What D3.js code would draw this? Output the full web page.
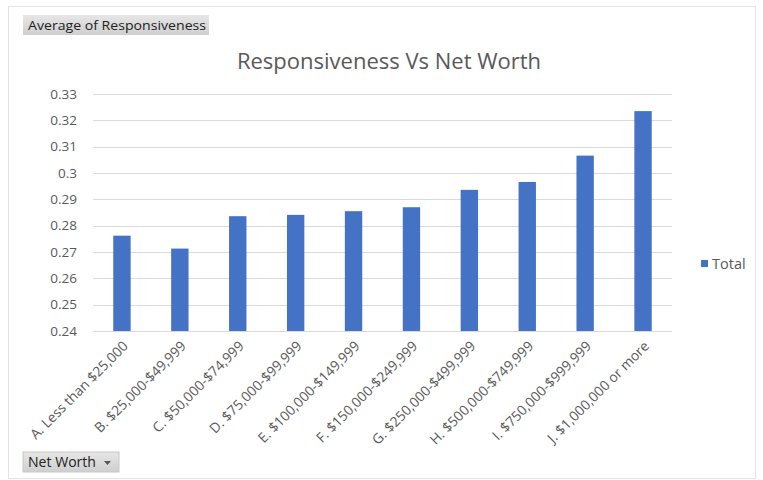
<!DOCTYPE html>
<html>
<head>
<meta charset="utf-8">
<script src="https://cdn.jsdelivr.net/npm/d3@7"></script>
<style>
  html, body { margin: 0; padding: 0; background: #fff; }
  svg { display: block; font-family: "Open Sans", sans-serif; }
</style>
</head>
<body>
<svg id="chart" width="763" height="480"></svg>
<script>
// Net worth brackets and the average responsiveness in each
const categories = [
  "A. Less than $25,000",
  "B. $25,000-$49,999",
  "C. $50,000-$74,999",
  "D. $75,000-$99,999",
  "E. $100,000-$149,999",
  "F. $150,000-$249,999",
  "G. $250,000-$499,999",
  "H. $500,000-$749,999",
  "I. $750,000-$999,999",
  "J. $1,000,000 or more"
];
const totals = [0.2762, 0.2713, 0.2836, 0.2841, 0.2855, 0.2870, 0.2936, 0.2966, 0.3066, 0.3235];
const yTicks = [0.24, 0.25, 0.26, 0.27, 0.28, 0.29, 0.30, 0.31, 0.32, 0.33];
const seriesName = "Total";
const chartTitle = "Responsiveness Vs Net Worth";
const valueField = "Average of Responsiveness";
const axisField = "Net Worth";

const font = "'Open Sans', sans-serif";
const svg = d3.select("#chart");
const plot = { left: 93, right: 672, top: 94, bottom: 331 };

// outer chart frame
svg.append("rect")
  .attr("x", 8.5).attr("y", 6.5).attr("width", 747).attr("height", 472)
  .attr("fill", "#fff").attr("stroke", "#e3e3e3");

const x = d3.scaleBand().domain(categories).range([plot.left, plot.right]).paddingInner(0.7).paddingOuter(0.35);
const y = d3.scaleLinear().domain([0.24, 0.33]).range([plot.bottom, plot.top]);

// horizontal gridlines
svg.append("g")
  .selectAll("line")
  .data(yTicks)
  .join("line")
  .attr("x1", plot.left).attr("x2", plot.right)
  .attr("y1", d => Math.round(y(d)) + 0.5).attr("y2", d => Math.round(y(d)) + 0.5)
  .attr("stroke", "#d9d9d9").attr("stroke-width", 1);

// y axis labels
const yAxis = d3.axisLeft(y).tickValues(yTicks).tickSize(0).tickPadding(0)
  .tickFormat(d => String(+d.toFixed(2)));
svg.append("g")
  .attr("transform", `translate(${plot.left - 16},0)`)
  .call(yAxis)
  .call(g => g.select(".domain").remove())
  .call(g => g.selectAll("text").attr("fill", "#595959").attr("font-size", 13.5)
    .attr("font-family", font));

// bars
svg.append("g")
  .selectAll("rect")
  .data(categories.map((c, i) => ({ c, v: totals[i] })))
  .join("rect")
  .attr("x", d => x(d.c))
  .attr("width", x.bandwidth())
  .attr("y", d => y(d.v))
  .attr("height", d => y(0.24) - y(d.v))
  .attr("fill", "#4472c4");

// x axis labels, rotated
const xAxis = d3.axisBottom(x).tickSize(0).tickPadding(0);
svg.append("g")
  .attr("transform", `translate(0,${plot.bottom})`)
  .call(xAxis)
  .call(g => g.select(".domain").remove())
  .call(g => g.selectAll("text")
    .attr("fill", "#595959").attr("font-size", 13.8)
    .attr("font-family", font)
    .attr("text-anchor", "end")
    .attr("dy", 0)
    .attr("transform", "translate(7,16) rotate(-45)"));

// title
svg.append("text")
  .attr("x", 389).attr("y", 69)
  .attr("text-anchor", "middle")
  .attr("fill", "#595959").attr("font-size", 22)
  .text(chartTitle);

// legend
svg.append("rect").attr("x", 701).attr("y", 260).attr("width", 7).attr("height", 7).attr("fill", "#4472c4");
svg.append("text").attr("x", 712).attr("y", 269)
  .attr("fill", "#595959").attr("font-size", 14.5).text(seriesName);

// field buttons
const grad = svg.append("defs").append("linearGradient")
  .attr("id", "btn").attr("x1", 0).attr("x2", 0).attr("y1", 0).attr("y2", 1);
grad.append("stop").attr("offset", "0%").attr("stop-color", "#e6e6e6");
grad.append("stop").attr("offset", "100%").attr("stop-color", "#cfcfcf");

svg.append("rect").attr("x", 23).attr("y", 15).attr("width", 186).attr("height", 20).attr("fill", "url(#btn)");
svg.append("text").attr("x", 28).attr("y", 29.5).attr("fill", "#222").attr("font-size", 12.5)
  .attr("textLength", 178).attr("lengthAdjust", "spacingAndGlyphs").text(valueField);

svg.append("rect").attr("x", 23).attr("y", 452).attr("width", 96).attr("height", 20).attr("fill", "url(#btn)")
  .attr("stroke", "#c8c8c8");
svg.append("text").attr("x", 28).attr("y", 467).attr("fill", "#222").attr("font-size", 14)
  .attr("textLength", 68).attr("lengthAdjust", "spacingAndGlyphs").text(axisField);
svg.append("path").attr("d", "M104,461 L111,461 L107.5,465 Z").attr("fill", "#555");
</script>
</body>
</html>
